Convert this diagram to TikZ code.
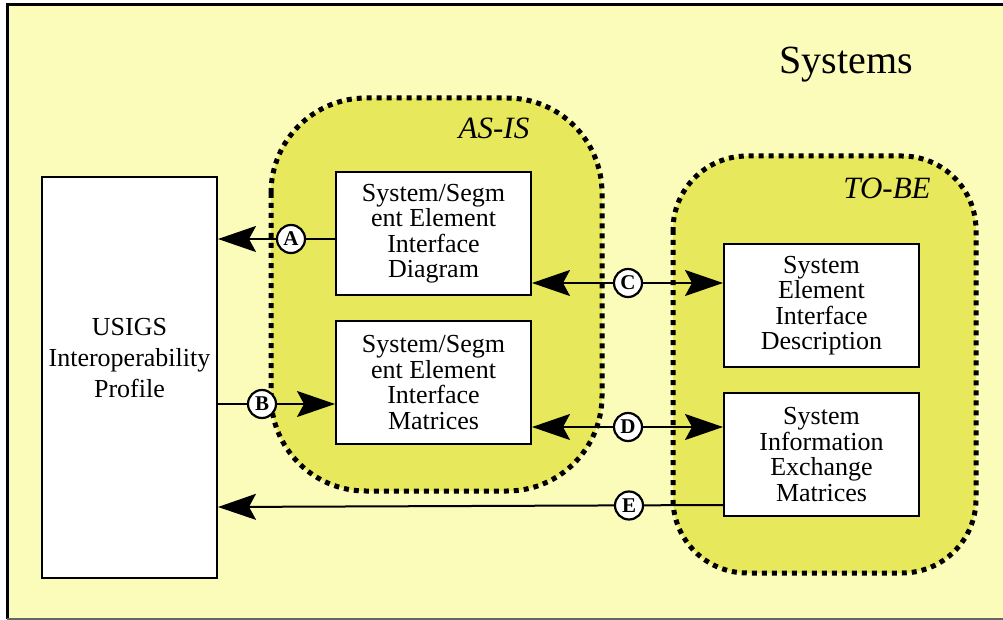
\documentclass[tikz,border=0pt]{standalone}
\usepackage{fontspec}
\setmainfont{Liberation Serif}
\usetikzlibrary{arrows.meta}
\definecolor{paper}{HTML}{FCFCBA}
\definecolor{zone}{HTML}{E8E85C}

\begin{document}
\begin{tikzpicture}[x=1pt,y=-1pt,
  box/.style={draw, line width=2pt, fill=white, minimum width=195pt, minimum height=123pt,
    inner sep=0pt, align=center, font=\fontsize{26}{25.4}\selectfont},
  zonefill/.style={fill=zone, rounded corners=#1},
  zoneedge/.style={draw, line width=5pt, dash pattern=on 5pt off 5pt, rounded corners=#1},
  tag/.style={circle, draw, line width=2.2pt, fill=white, minimum size=28pt, inner sep=0pt,
    font=\bfseries\fontsize{21}{21}\selectfont},
  link/.style={line width=2pt, -{Stealth[length=38pt,width=26pt,inset=7pt]}},
  dlink/.style={line width=2pt, {Stealth[length=38pt,width=26pt,inset=7pt]}-{Stealth[length=38pt,width=26pt,inset=7pt]}},
  zonelabel/.style={font=\itshape\fontsize{31}{31}\selectfont},
]
\useasboundingbox (0,0) rectangle (1003,620);

% page and frame
\fill[paper] (7,5) rectangle (1004,619);
\draw[line width=3pt] (1004,5) -- (7,5) -- (7,619);
\draw[line width=1.2pt, black!60] (7,619) -- (1004,619);

\node[font=\fontsize{40}{40}\selectfont] (title) at (846,65) {Systems};

% zone fills
\path[zonefill=95pt] (271,98) rectangle (602,491);
\path[zonefill=74pt] (673,156) rectangle (976,573);

% boxes
\node[draw, line width=2pt, fill=white, minimum width=175pt, minimum height=401pt, inner sep=0pt]
  (usigs) at (129.5,377.5) {};
\node[align=center, font=\fontsize{26}{31}\selectfont] (usigstext) at (129.5,358)
  {USIGS\\Interoperability\\Profile};
\node[box] (sd) at (433.5,233.5) {System/Segm\\ent Element\\Interface\\Diagram};
\node[box] (sm) at (433.5,382.5) {System/Segm\\ent Element\\Interface\\Matrices};
\node[box] (ed) at (821.5,305.5) {System\\Element\\Interface\\Description};
\node[box] (ie) at (821.5,454.5) {System\\Information\\Exchange\\Matrices};

% connector heights
\coordinate (ya) at (0,239);
\coordinate (yb) at (0,404);
\coordinate (yc) at (0,283);
\coordinate (yd) at (0,427);
\coordinate (ye1) at (0,505);
\coordinate (ye2) at (0,507);

% connectors
\draw[link] (sd.west |- ya) -- (usigs.east |- ya);
\draw[link] (usigs.east |- yb) -- (sm.west |- yb);
\draw[dlink] (sd.east |- yc) -- (ed.west |- yc);
\draw[dlink] (sm.east |- yd) -- (ie.west |- yd);
\draw[link] (ie.west |- ye1) -- (usigs.east |- ye2);

% zone outlines
\path[zoneedge=95pt] (271,98) rectangle (602,491);
\path[zoneedge=74pt] (673,156) rectangle (976,573);
\node[zonelabel] (asis) at (494,128) {AS-IS};
\node[zonelabel] (tobe) at (887,188) {TO-BE};

% connector tags
\node[tag] (ta) at (291,239) {A};
\node[tag] (tb) at (262,404) {B};
\node[tag] (tc) at (628,283) {C};
\node[tag] (td) at (628,427) {D};
\node[tag] (te) at (629,505.5) {E};

% boxes again, above the outlines
\node[box] at (sd) {System/Segm\\ent Element\\Interface\\Diagram};
\node[box] at (sm) {System/Segm\\ent Element\\Interface\\Matrices};
\node[box] at (ed) {System\\Element\\Interface\\Description};
\node[box] at (ie) {System\\Information\\Exchange\\Matrices};
\end{tikzpicture}
\end{document}
